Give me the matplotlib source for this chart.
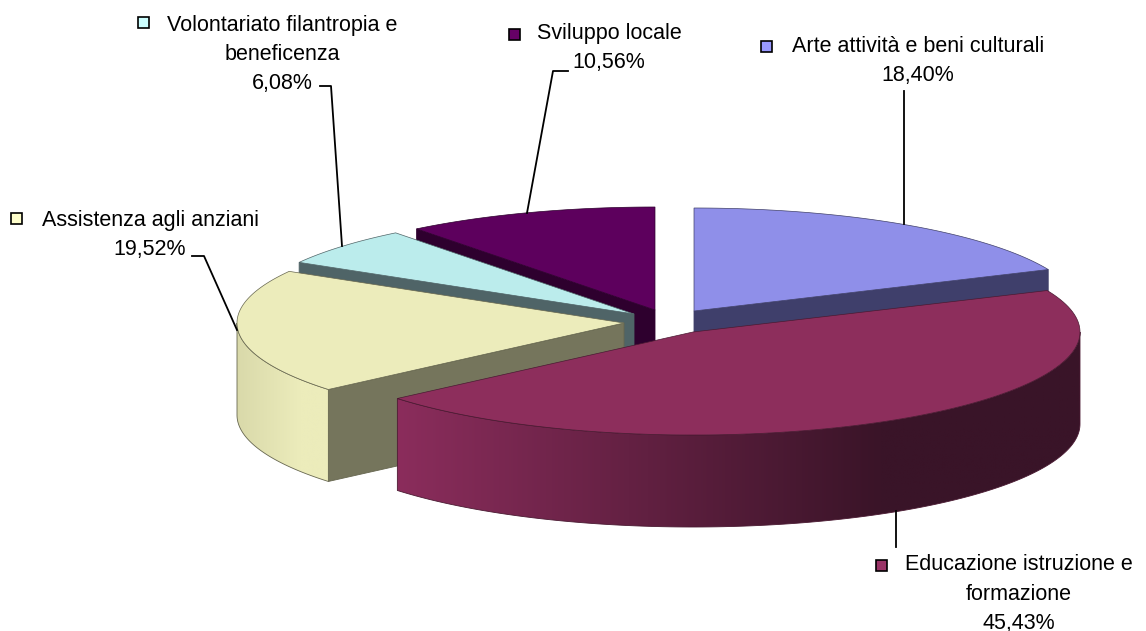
import matplotlib
matplotlib.use('Agg')
import matplotlib.pyplot as plt
from matplotlib.patches import Rectangle, Polygon
from matplotlib.colors import to_rgb
import numpy as np

# Dati
categorie = ['Arte attività e beni culturali', 'Educazione istruzione e\nformazione',
             'Assistenza agli anziani', 'Volontariato filantropia e\nbeneficenza', 'Sviluppo locale']
valori = [18.40, 45.43, 19.52, 6.08, 10.56]

# Stile delle fette
col_top = ['#8f8fe9', '#8d2e5c', '#ececbb', '#bbecec', '#5d005d']
col_taglio = ['#3f3f6b', '#3f3f6b', '#75755c', '#4f6467', '#2e002e']
col_chiave = ['#9999ff', '#993366', '#ffffcc', '#ccffff', '#660066']
col_bordo = ['#40406a', '#4a1a32', '#66664f', '#4f6467', '#2e002e']
# colore della parete esterna: sinistra, destra, x inizio, x fine
parete = [None, ('#8b2d5c', '#3a1428', 397, 880), ('#d9d9aa', '#ececbb', 237, 300), None, None]
centri = [(694, 311), (693, 332), (624, 323), (634, 314), (655, 310)]
RX, RY, H = 387, 103, 92

# Etichette
pos_testo = [(918, 61), (1019, 594), (150, 235), (282, 54), (609, 48)]
pos_chiave = [(766, 46), (881, 565), (16, 218), (143, 22), (514, 34)]
linee = [([904, 904], [91, 224]),
         ([896, 896], [511, 547]),
         ([192, 204, 237], [256, 256, 330]),
         ([320, 331, 342], [86, 86, 246]),
         ([568, 553, 527], [71, 71, 213])]

fig = plt.figure(figsize=(11.46, 6.31), dpi=100)
ax = fig.add_axes([0, 0, 1, 1])


def punto(c, ang):
    return c[0] + RX * np.sin(ang), c[1] - RY * np.cos(ang)


def disegna_fetta(i, a0, a1):
    c = centri[i]
    bordo = col_bordo[i]
    # facce di taglio visibili
    for ang, vis in ((a0, np.sin(a0) < 0), (a1, np.sin(a1) > 0)):
        if vis:
            x, y = punto(c, ang)
            ax.fill([c[0], x, x, c[0]], [c[1], y, y + H, c[1] + H],
                    facecolor=col_taglio[i], edgecolor=bordo, lw=0.6, zorder=2)
    # parete esterna con sfumatura
    if parete[i] is not None:
        sx, dx, x0, x1 = parete[i]
        sx, dx = np.array(to_rgb(sx)), np.array(to_rgb(dx))
        lo, hi = max(a0, np.pi / 2), min(a1, 3 * np.pi / 2)
        angs = np.linspace(lo, hi, 140)
        xb, yb = punto(c, angs)
        xmin, xmax = xb.min(), xb.max()
        ymin, ymax = yb.min(), yb.max() + H
        t = np.clip((np.linspace(xmin, xmax, 400) - x0) / (x1 - x0), 0, 1)
        grad = (sx + (dx - sx) * t[:, None])[None, :, :]
        im = ax.imshow(grad, extent=(xmin, xmax, ymax, ymin), aspect='auto', zorder=2)
        forma = Polygon(np.c_[np.r_[xb, xb[::-1]], np.r_[yb, yb[::-1] + H]],
                        closed=True, transform=ax.transData, facecolor='none',
                        edgecolor=bordo, lw=0.6, zorder=2)
        ax.add_patch(forma)
        im.set_clip_path(forma)
    # faccia superiore
    angs = np.linspace(a0, a1, 120)
    xs, ys = punto(c, angs)
    ax.fill(np.r_[c[0], xs], np.r_[c[1], ys], facecolor=col_top[i],
            edgecolor=bordo, lw=0.5, zorder=2)


limiti = np.cumsum([0] + valori) / sum(valori) * 2 * np.pi
for i in [4, 3, 0, 2, 1]:
    disegna_fetta(i, limiti[i], limiti[i + 1])

for i, nome in enumerate(categorie):
    etichetta = nome + '\n' + f'{valori[i]:.2f}%'.replace('.', ',')
    ax.text(pos_testo[i][0], pos_testo[i][1], etichetta, ha='center', va='center',
            fontsize=15.5, family='Liberation Sans', color='black', linespacing=1.5, zorder=5)
    kx, ky = pos_chiave[i]
    ax.add_patch(Rectangle((kx - 5.5, ky - 5.5), 11, 11, facecolor=col_chiave[i],
                           edgecolor='black', lw=1.2, zorder=5))
    ax.plot(linee[i][0], linee[i][1], color='black', lw=1.3, zorder=3)

ax.set_xlim(0, 1146)
ax.set_ylim(631, 0)
ax.axis('off')

fig.savefig('out.png', dpi=100)
